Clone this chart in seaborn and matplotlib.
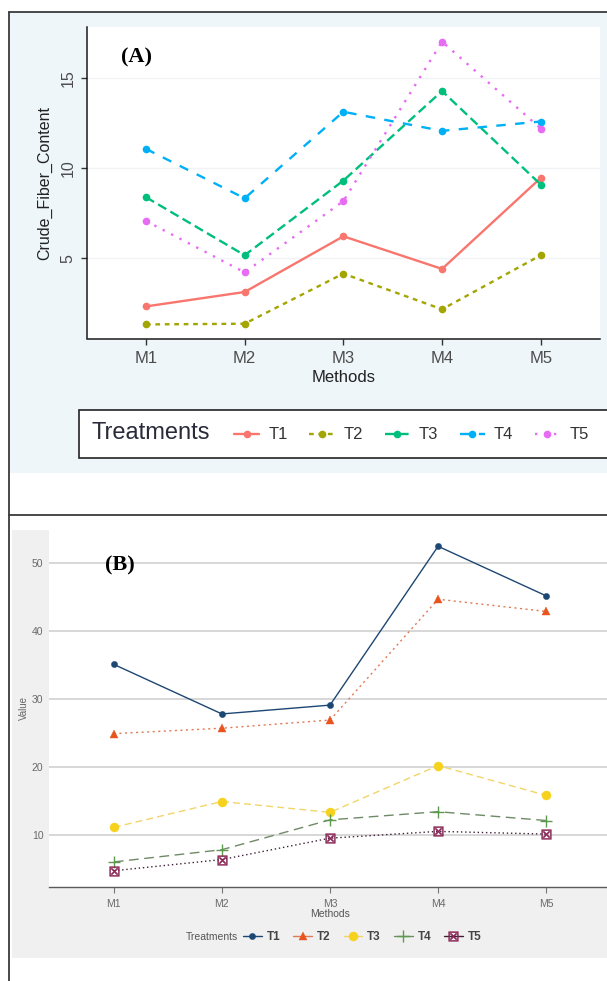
import matplotlib
matplotlib.use('Agg')
import matplotlib.pyplot as plt
from matplotlib.lines import Line2D
from matplotlib.patches import Rectangle
import seaborn as sns
import pandas as pd

# ---------------- data ----------------
methods = ['M1', 'M2', 'M3', 'M4', 'M5']
treatments = ['T1', 'T2', 'T3', 'T4', 'T5']

# Panel (A): Crude fiber content
fiber_T1 = [2.33, 3.13, 6.22, 4.41, 9.46]
fiber_T2 = [1.33, 1.37, 4.15, 2.17, 5.17]
fiber_T3 = [8.39, 5.17, 9.31, 14.28, 9.09]
fiber_T4 = [11.07, 8.33, 13.13, 12.07, 12.59]
fiber_T5 = [7.07, 4.22, 8.17, 17.02, 12.20]

# Panel (B): Value
value_T1 = [35.1, 27.8, 29.1, 52.5, 45.2]
value_T2 = [24.9, 25.7, 26.9, 44.7, 42.9]
value_T3 = [11.1, 14.9, 13.3, 20.2, 15.8]
value_T4 = [6.0, 7.8, 12.2, 13.4, 12.1]
value_T5 = [4.7, 6.35, 9.5, 10.5, 10.1]

fiber_yticks = [5, 10, 15]
value_yticks = [10, 20, 30, 40, 50]

dfA = pd.DataFrame({
    'Method': methods * 5,
    'Treatments': [t for t in treatments for _ in methods],
    'Crude_Fiber_Content': fiber_T1 + fiber_T2 + fiber_T3 + fiber_T4 + fiber_T5,
})
dfB = pd.DataFrame({
    'Method': methods * 5,
    'Treatments': [t for t in treatments for _ in methods],
    'Value': value_T1 + value_T2 + value_T3 + value_T4 + value_T5,
})

# ---------------- styles ----------------
styleA = {
    'T1': dict(color='#F8766D', ls='-'),
    'T2': dict(color='#A3A500', ls=(0, (2, 2))),
    'T3': dict(color='#00BF7D', ls=(0, (4, 2))),
    'T4': dict(color='#00B0F6', ls=(0, (4, 4))),
    'T5': dict(color='#E76BF3', ls=(0, (1, 3))),
}
styleB = {
    'T1': dict(ls='-', marker='o', ms=4.5, mfc='#1d4773', mec='#1d4773', lc='#1d4773'),
    'T2': dict(ls=(0, (1.5, 2.5)), marker='^', ms=5.5, mfc='#e8531e', mec='#e8531e', lc='#e07a55'),
    'T3': dict(ls=(0, (5, 3)), marker='o', ms=6.5, mfc='#f6d21c', mec='#f6d21c', lc='#f2d568'),
    'T4': dict(ls=(0, (7, 4)), marker='+', ms=8, mfc='#5e9a4e', mec='#5e9a4e', lc='#6f8a66'),
    'T5': dict(ls=(0, (1, 2)), marker=r'$\boxtimes$', ms=7, mfc='#8b2656', mec='#8b2656', lc='#3e2036'),
}

W, H = 607, 981
sns.set_theme(style='white')
plt.rcParams['font.family'] = ['Liberation Sans', 'DejaVu Sans']

fig = plt.figure(figsize=(W / 100, H / 100), dpi=100)
fig.patch.set_facecolor('white')


def fx(px):
    return px / W


def fy(py):
    return 1 - py / H


def frect(x0, y0, x1, y1, **kw):
    r = Rectangle((fx(x0), fy(y1)), fx(x1) - fx(x0), fy(y0) - fy(y1),
                  transform=fig.transFigure, **kw)
    fig.add_artist(r)
    return r


def fline(xs, ys, **kw):
    fig.add_artist(Line2D([fx(x) for x in xs], [fy(y) for y in ys],
                          transform=fig.transFigure, **kw))


# backgrounds and frame
frect(9, 12, 607, 473, facecolor='#eef6fa', edgecolor='none', zorder=-5)
frect(12, 530, 607, 958, facecolor='#f0f0f0', edgecolor='none', zorder=-5)
fline([9, 607], [12, 12], color='#3a3a3a', lw=1.3, zorder=10)
fline([9, 9], [12, 981], color='#3a3a3a', lw=1.3, zorder=10)
fline([9, 607], [515, 515], color='#3a3a3a', lw=1.3, zorder=10)

# ---------------- Panel A ----------------
axA = fig.add_axes([fx(86.7), fy(338.5), fx(600) - fx(86.7), fy(26.7) - fy(338.5)])
axA.set_facecolor('white')
for t in treatments:
    s = styleA[t]
    sns.lineplot(data=dfA[dfA['Treatments'] == t], x='Method', y='Crude_Fiber_Content',
                 color=s['color'], linestyle=s['ls'], lw=1.7, marker='o', markersize=5.5,
                 markeredgewidth=0, sort=False, legend=False, ax=axA)
axA.set_xlim(-0.6, 4.6)
axA.set_ylim(0.55, 17.85)
axA.set_yticks(fiber_yticks)
axA.yaxis.grid(True, color='#f1f4f6', lw=1)
axA.xaxis.grid(False)
for sp in ['top', 'right']:
    axA.spines[sp].set_visible(False)
for sp in ['left', 'bottom']:
    axA.spines[sp].set_color('#1a1a1a')
    axA.spines[sp].set_linewidth(1.1)
axA.tick_params(axis='both', which='both', length=4, width=1, color='#333333',
                labelsize=12, labelcolor='#4d4d4d', left=True, bottom=True)
axA.tick_params(axis='y', labelrotation=90, pad=4, labelsize=11.5)
axA.tick_params(axis='x', pad=5)
for lab in axA.get_yticklabels():
    lab.set_va('center')
axA.set_xlabel('Methods', fontsize=12, color='#222222', labelpad=3)
axA.set_ylabel('Crude_Fiber_Content', fontsize=11.5, color='#222222', labelpad=6)

fig.text(fx(136), fy(57), '(A)', ha='center', va='center', fontsize=16,
         fontweight='bold', family=['Liberation Serif', 'DejaVu Serif'], color='black')

# legend A
frect(79, 410, 625, 458, facecolor='white', edgecolor='#222222', lw=1.2, zorder=3)
fig.text(fx(91), fy(433), 'Treatments', ha='left', va='center', fontsize=17,
         color='#2a2a3a', zorder=4)
handlesA = [Line2D([], [], color=styleA[t]['color'], ls=styleA[t]['ls'], lw=1.7,
                   marker='o', ms=5.5, mew=0) for t in treatments]
legA = fig.legend(handlesA, treatments, loc='center left', bbox_to_anchor=(fx(234), fy(435)),
                  ncol=5, frameon=False, fontsize=12, handlelength=1.5, handletextpad=0.55,
                  columnspacing=1.3, borderpad=0, borderaxespad=0)
for txt in legA.get_texts():
    txt.set_color('#333333')
legA.set_zorder(6)

# ---------------- Panel B ----------------
axB = fig.add_axes([fx(49), fy(886.7), fx(611) - fx(49), fy(530) - fy(886.7)])
axB.set_facecolor('white')
for t in treatments:
    s = styleB[t]
    sns.lineplot(data=dfB[dfB['Treatments'] == t], x='Method', y='Value',
                 color=s['lc'], linestyle=s['ls'], lw=1.0, marker=s['marker'],
                 markersize=s['ms'], markerfacecolor=s['mfc'], markeredgecolor=s['mec'],
                 markeredgewidth=1.0 if s['marker'] == '+' else 0.3,
                 sort=False, legend=False, ax=axB)
axB.set_xlim(-0.6, 4.6)
axB.set_ylim(2.35, 54.9)
axB.set_yticks(value_yticks)
axB.yaxis.grid(True, color='#d4d4d4', lw=1.3)
axB.xaxis.grid(False)
for sp in ['top', 'right', 'left']:
    axB.spines[sp].set_visible(False)
axB.spines['bottom'].set_color('#5a5a5a')
axB.spines['bottom'].set_linewidth(1.0)
axB.tick_params(axis='y', length=0, labelsize=7.5, labelcolor='#6a6a6a', pad=4)
axB.tick_params(axis='x', length=4, width=0.8, color='#777777', labelsize=7.5,
                labelcolor='#6a6a6a', pad=5, bottom=True)
axB.set_xlabel('Methods', fontsize=7.5, color='#555555', labelpad=0)
axB.set_ylabel('Value', fontsize=7, color='#666666', labelpad=2)

fig.text(fx(120), fy(565), '(B)', ha='center', va='center', fontsize=16,
         fontweight='bold', family=['Liberation Serif', 'DejaVu Serif'], color='black')

# legend B
fig.text(fx(186), fy(937), 'Treatments', ha='left', va='center', fontsize=7.5,
         color='#555555')
handlesB = [Line2D([], [], color=styleB[t]['lc'], ls='-', lw=1.0, marker=styleB[t]['marker'],
                   ms=styleB[t]['ms'], mfc=styleB[t]['mfc'], mec=styleB[t]['mec'],
                   mew=1.0 if styleB[t]['marker'] == '+' else 0.3) for t in treatments]
legB = fig.legend(handlesB, treatments, loc='center left', bbox_to_anchor=(fx(243), fy(937)),
                  ncol=5, frameon=False, handlelength=1.6, handletextpad=0.4,
                  columnspacing=1.1, borderpad=0, borderaxespad=0,
                  prop={'size': 8.5, 'weight': 'bold'})
for txt in legB.get_texts():
    txt.set_color('#444444')

fig.savefig('out.png', dpi=100)
